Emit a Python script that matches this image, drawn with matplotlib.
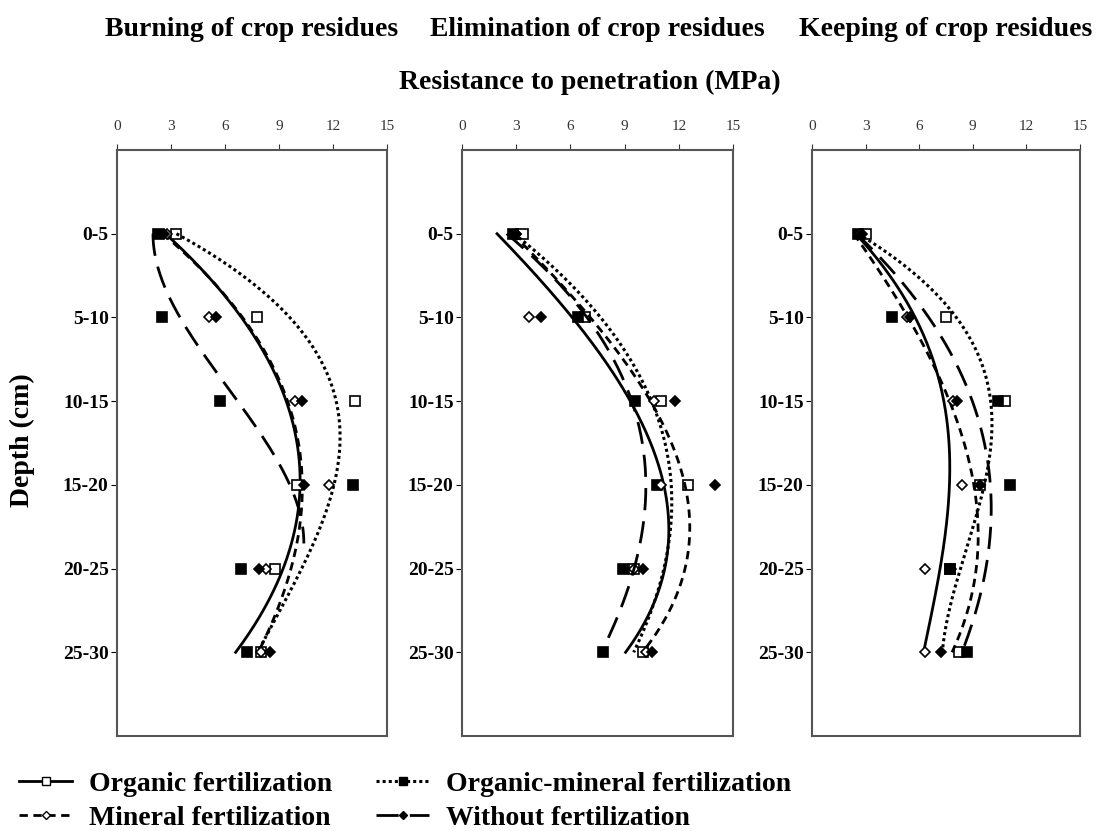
import numpy as np
import matplotlib
matplotlib.use("Agg")
import matplotlib.pyplot as plt
from matplotlib.lines import Line2D

plt.rcParams['font.family'] = ['Liberation Serif', 'DejaVu Serif']

# Datos
depths = ["0-5", "5-10", "10-15", "15-20", "20-25", "25-30"]
x_ticks = [0, 3, 6, 9, 12, 15]
panel_titles = ["Burning of crop residues", "Elimination of crop residues",
                "Keeping of crop residues"]
series = ["Organic fertilization", "Organic-mineral fertilization",
          "Mineral fertilization", "Without fertilization"]

# puntos medidos (MPa) por tratamiento
burn_pts = [[3.3, 7.8, 13.2, 10.0, 8.8, 8.0],
            [2.3, 2.5, 5.7, 13.1, 6.9, 7.2],
            [2.8, 5.1, 9.9, 11.8, 8.3, 8.0],
            [2.6, 5.5, 10.3, 10.4, 7.9, 8.5]]
elim_pts = [[3.4, 6.8, 11.0, 12.5, 9.5, 10.0],
            [2.8, 6.4, 9.6, 10.8, 8.9, 7.8],
            [3.0, 3.7, 10.6, 11.0, 9.5, 10.2],
            [3.0, 4.4, 11.8, 14.0, 10.0, 10.5]]
keep_pts = [[3.0, 7.5, 10.8, 9.4, 7.7, 8.2],
            [2.6, 4.5, 10.4, 11.1, 7.7, 8.7],
            [2.7, 5.3, 7.9, 8.4, 6.3, 6.3],
            [2.8, 5.5, 8.1, 9.4, 7.8, 7.2]]

burn_trend = [[2.7, 6.9, 9.4, 10.2, 9.2, 6.6],
              [3.3, 9.6, 12.2, 12.0, 10.3, 7.8],
              [2.6, 6.8, 9.6, 10.4, 9.5, 7.9],
              [2.0, 3.5, 6.7, 9.6, 10.2]]
elim_trend = [[2.0, 5.9, 9.5, 11.2, 11.1, 9.1],
              [2.9, 7.6, 10.6, 11.5, 11.2, 9.5],
              [2.8, 7.1, 10.4, 12.4, 12.3, 10.0],
              [2.6, 6.5, 9.8, 10.2, 9.3, 7.8]]
keep_trend = [[2.4, 5.9, 7.3, 7.6, 7.3, 6.2],
              [2.6, 8.0, 10.1, 9.6, 8.3, 7.3],
              [2.4, 5.2, 7.8, 9.2, 9.0, 7.9],
              [2.5, 6.5, 9.0, 10.0, 9.7, 8.4]]
# hasta que profundidad llega cada curva (posicion)
burn_end = [6, 6, 6, 4.7]
elim_end = [6, 6, 6, 6]
keep_end = [6, 6, 6, 6]

# estilos: organico, organo-mineral, mineral, sin fertilizar
markers = ['s', 's', 'D', 'D']
face = ['white', 'black', 'white', 'black']
msize = [7, 7, 5.5, 5.5]
styles = ['-', (0, (1, 1)), (0, (3, 2)), (0, (8, 4))]
lw = [2.0, 2.2, 2.0, 2.0]

fig = plt.figure(figsize=(11.07, 8.31), dpi=100)
W, H = 1107, 831
boxes = [(117, 387), (462, 733), (812, 1080)]
top_px, bot_px = 150, 736

pos = np.arange(1, len(depths) + 1)

for k, (pts, trend, ends) in enumerate([(burn_pts, burn_trend, burn_end),
                                        (elim_pts, elim_trend, elim_end),
                                        (keep_pts, keep_trend, keep_end)]):
    x0, x1 = boxes[k]
    ax = fig.add_axes([x0 / W, 1 - bot_px / H, (x1 - x0) / W,
                       (bot_px - top_px) / H])
    for i in range(4):
        d = np.arange(1, len(trend[i]) + 1)
        c = np.polyfit(d, trend[i], 3)
        fine = np.linspace(1, ends[i], 200)
        ax.plot(np.polyval(c, fine), fine, color='black', lw=lw[i],
                linestyle=styles[i])
        ax.plot(pts[i], pos, linestyle='none', marker=markers[i],
                markersize=msize[i], markerfacecolor=face[i],
                markeredgecolor='black', markeredgewidth=1.2)
    ax.set_xlim(0, 15)
    ax.set_ylim(7, 0)
    ax.xaxis.tick_top()
    ax.set_xticks(x_ticks)
    ax.set_xticklabels([str(v) for v in x_ticks], fontsize=11)
    ax.set_yticks(pos)
    ax.set_yticklabels(depths, fontsize=14, fontweight='bold')
    ax.tick_params(axis='x', length=4, pad=8, colors='#333333')
    ax.tick_params(axis='y', length=4, pad=2)
    for s in ax.spines.values():
        s.set_color('#555555')
        s.set_linewidth(1.5)
    fig.text((x0 + x1) / 2 / W, 1 - 30 / H, panel_titles[k], ha='center',
             va='center', fontsize=20, fontweight='bold')

fig.text(590 / W, 1 - 82 / H, "Resistance to penetration (MPa)", ha='center',
         va='center', fontsize=20, fontweight='bold')
fig.text(22 / W, 1 - 440 / H, "Depth (cm)", rotation=90, ha='center',
         va='center', fontsize=20, fontweight='bold')

handles = []
for i in [0, 2, 1, 3]:
    handles.append(Line2D([], [], color='black', lw=lw[i], linestyle=styles[i],
                          marker=markers[i], markersize=msize[i] - 1,
                          markerfacecolor=face[i], markeredgecolor='black',
                          label=series[i]))
fig.legend(handles=handles, loc='upper left',
           bbox_to_anchor=(0.0, 1 - 752 / H),
           ncol=2, frameon=False, prop={'weight': 'bold', 'size': 20},
           handlelength=1.9, columnspacing=1.6, labelspacing=0.3,
           handletextpad=0.6, borderaxespad=0.3)

fig.savefig("out.png", dpi=100)
